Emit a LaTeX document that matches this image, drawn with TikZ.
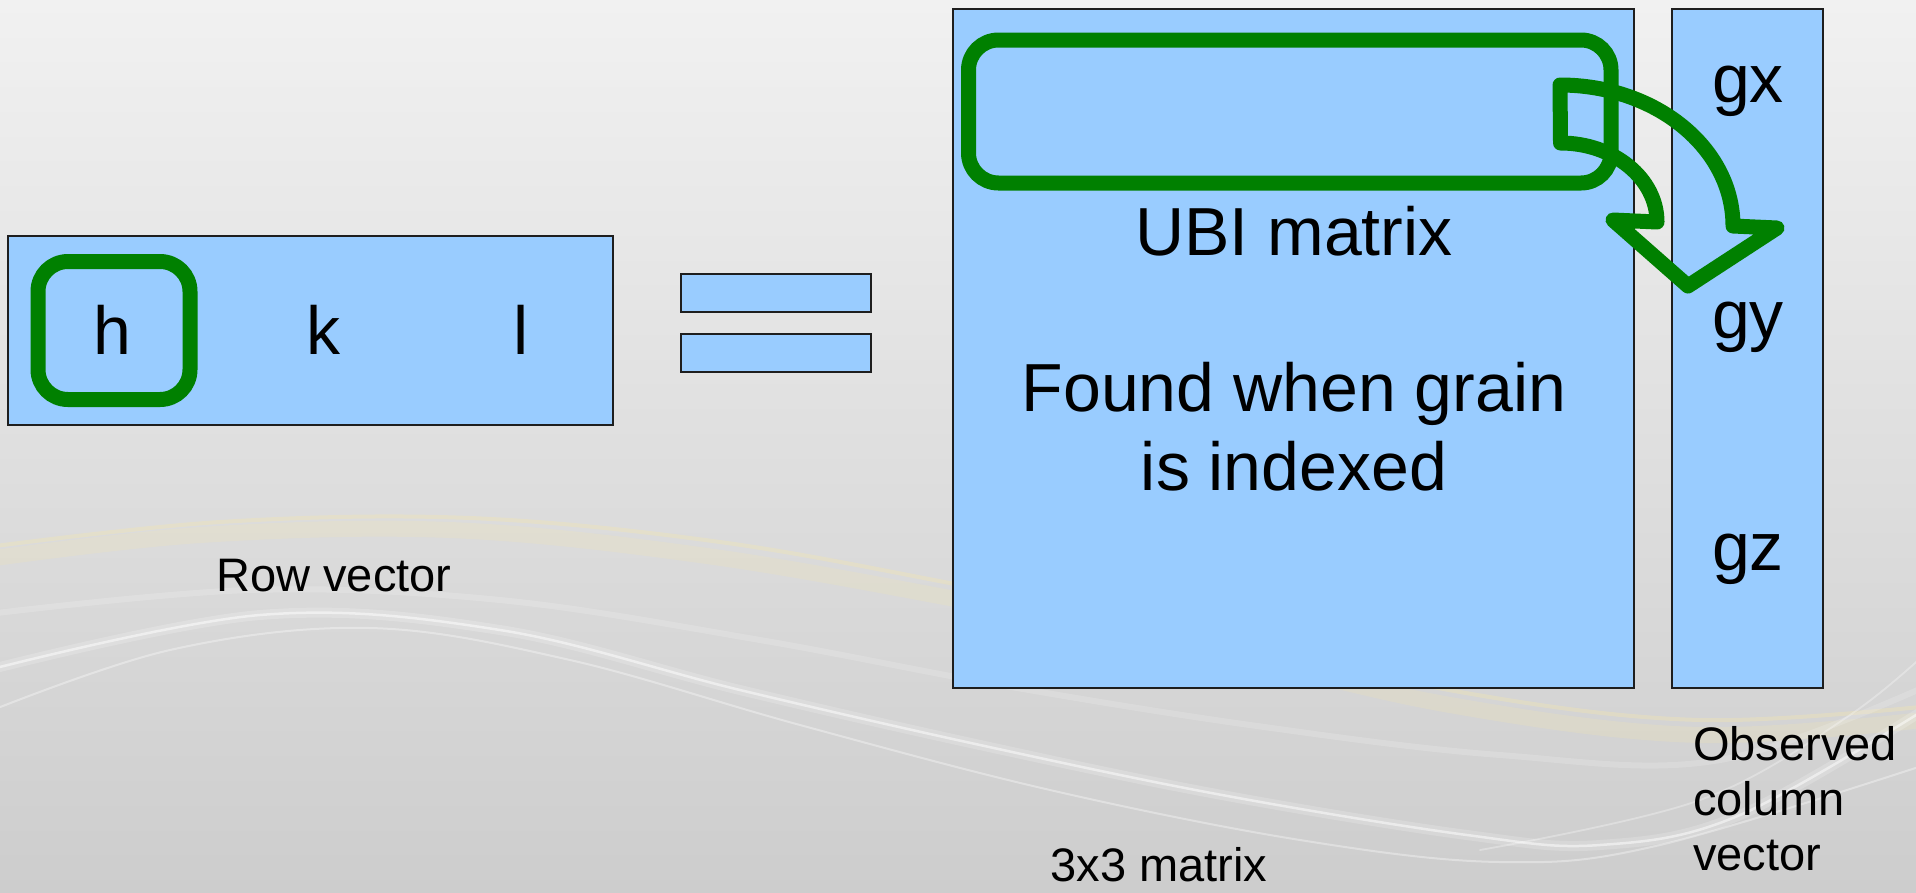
\documentclass[tikz,border=0pt]{standalone}
\usepackage{fontspec}
\setmainfont{Liberation Sans}
\definecolor{cellblue}{HTML}{99CCFF}
\definecolor{ringgreen}{HTML}{008000}
\definecolor{boxline}{HTML}{1E1E1E}
\definecolor{bgtop}{HTML}{F1F1F1}
\definecolor{bgbottom}{HTML}{CDCDCD}
\definecolor{sand}{HTML}{F4E7AE}
\begin{document}
\begin{tikzpicture}[x=1pt, y=-1pt,
  cellbox/.style={draw=boxline, line width=1.3pt, fill=cellblue, inner sep=0pt,
                  outer sep=0pt, anchor=north west},
  ring/.style={draw=ringgreen, line width=15pt, rounded corners=30pt, inner sep=0pt,
               outer sep=0pt, anchor=north west},
  bendarrow/.style={draw=ringgreen, line width=15pt, line join=round},
  bigtext/.style={font=\fontsize{68}{78.3}\selectfont, inner sep=0pt, anchor=base},
  smalltext/.style={font=\fontsize{47}{55}\selectfont, inner sep=0pt, anchor=base},
  swoosh/.style={white, line cap=round},
]
% page and backdrop
\useasboundingbox (0,0) rectangle (1916,892);
\shade[top color=bgtop, bottom color=bgbottom] (0,0) rectangle (1916,892);

% soft streaks across the backdrop
\draw[sand, line width=16pt, opacity=0.22, line cap=round]
  plot[smooth, tension=0.6] coordinates {(-20,560) (200,535) (450,530) (700,555) (950,598) (1200,648) (1450,705) (1700,735) (1940,718)};
\draw[sand, line width=4pt, opacity=0.35, line cap=round]
  plot[smooth, tension=0.6] coordinates {(-20,548) (220,522) (470,518) (720,542) (960,585) (1210,635) (1460,692) (1700,720) (1940,705)};
\draw[swoosh, line width=10pt, opacity=0.18]
  plot[smooth, tension=0.6] coordinates {(-20,672) (260,615) (500,630) (740,690) (980,745) (1222,795) (1467,835) (1600,845) (1740,815) (1940,700)};
\draw[swoosh, line width=2.5pt, opacity=0.5]
  plot[smooth, tension=0.6] coordinates {(-20,672) (260,615) (500,630) (740,690) (980,745) (1222,795) (1467,835) (1600,845) (1740,815) (1940,700)};
\draw[swoosh, line width=2pt, opacity=0.35]
  plot[smooth, tension=0.6] coordinates {(-20,715) (170,650) (370,628) (570,660) (800,725) (1050,790) (1300,840) (1500,862) (1660,845) (1940,760)};
\draw[swoosh, line width=6pt, opacity=0.16]
  plot[smooth, tension=0.6] coordinates {(-20,615) (250,590) (500,600) (760,640) (1000,685) (1250,725) (1500,755) (1720,760) (1940,680)};
\draw[swoosh, line width=1.8pt, opacity=0.3]
  plot[smooth, tension=0.6] coordinates {(1480,850) (1700,800) (1850,715) (1940,640)};

% row vector h k l
\node[cellbox, minimum width=605pt, minimum height=189pt] (rowvec) at (8,236) {};
\node[ring, minimum width=152pt, minimum height=138pt] (hring) at (38,261.5) {};
\node[bigtext] (hlab) at (112.5,354) {h};
\node[bigtext] (klab) at (323,354) {k};
\node[bigtext] (llab) at (521,354) {l};
\node[smalltext] (rowcap) at (334,591) {Row vector};

% equals sign
\node[cellbox, minimum width=190pt, minimum height=38pt] (eqtop) at (681,274) {};
\node[cellbox, minimum width=190pt, minimum height=38pt] (eqbot) at (681,334) {};

% 3x3 matrix
\node[cellbox, minimum width=681pt, minimum height=679pt] (ubi) at (953,9) {};
\node[ring, minimum width=642.5pt, minimum height=143pt] (rowring) at (968.5,40) {};
\node[bigtext] (ubilab) at (1294,255) {UBI matrix};
% the base anchor of a two-line node sits on its last line
\node[bigtext, align=center] (foundlab) at (1294,490) {Found when grain\\is indexed};
\node[smalltext] (matcap) at (1159,881) {3x3 matrix};

% observed column vector
\node[cellbox, minimum width=151pt, minimum height=679pt] (gvec) at (1672,9) {};
\node[bigtext] (gxlab) at (1748,102) {gx};
\node[bigtext] (gylab) at (1748,338) {gy};
\node[bigtext] (gzlab) at (1748,570) {gz};
\node[smalltext, align=left, anchor=base west] (gcap) at (1693,870) {Observed\\column\\vector};

% bent block arrow from the first matrix row down into the column vector
\draw[bendarrow] (1560,85) .. controls (1655.5,85) and (1733,147.7) .. (1733,226)
  -- (1777,228) -- (1688,286) -- (1613,220) -- (1657,222)
  .. controls (1657,178.4) and (1613.6,143) .. (1560.5,143) -- cycle;
\end{tikzpicture}
\end{document}
